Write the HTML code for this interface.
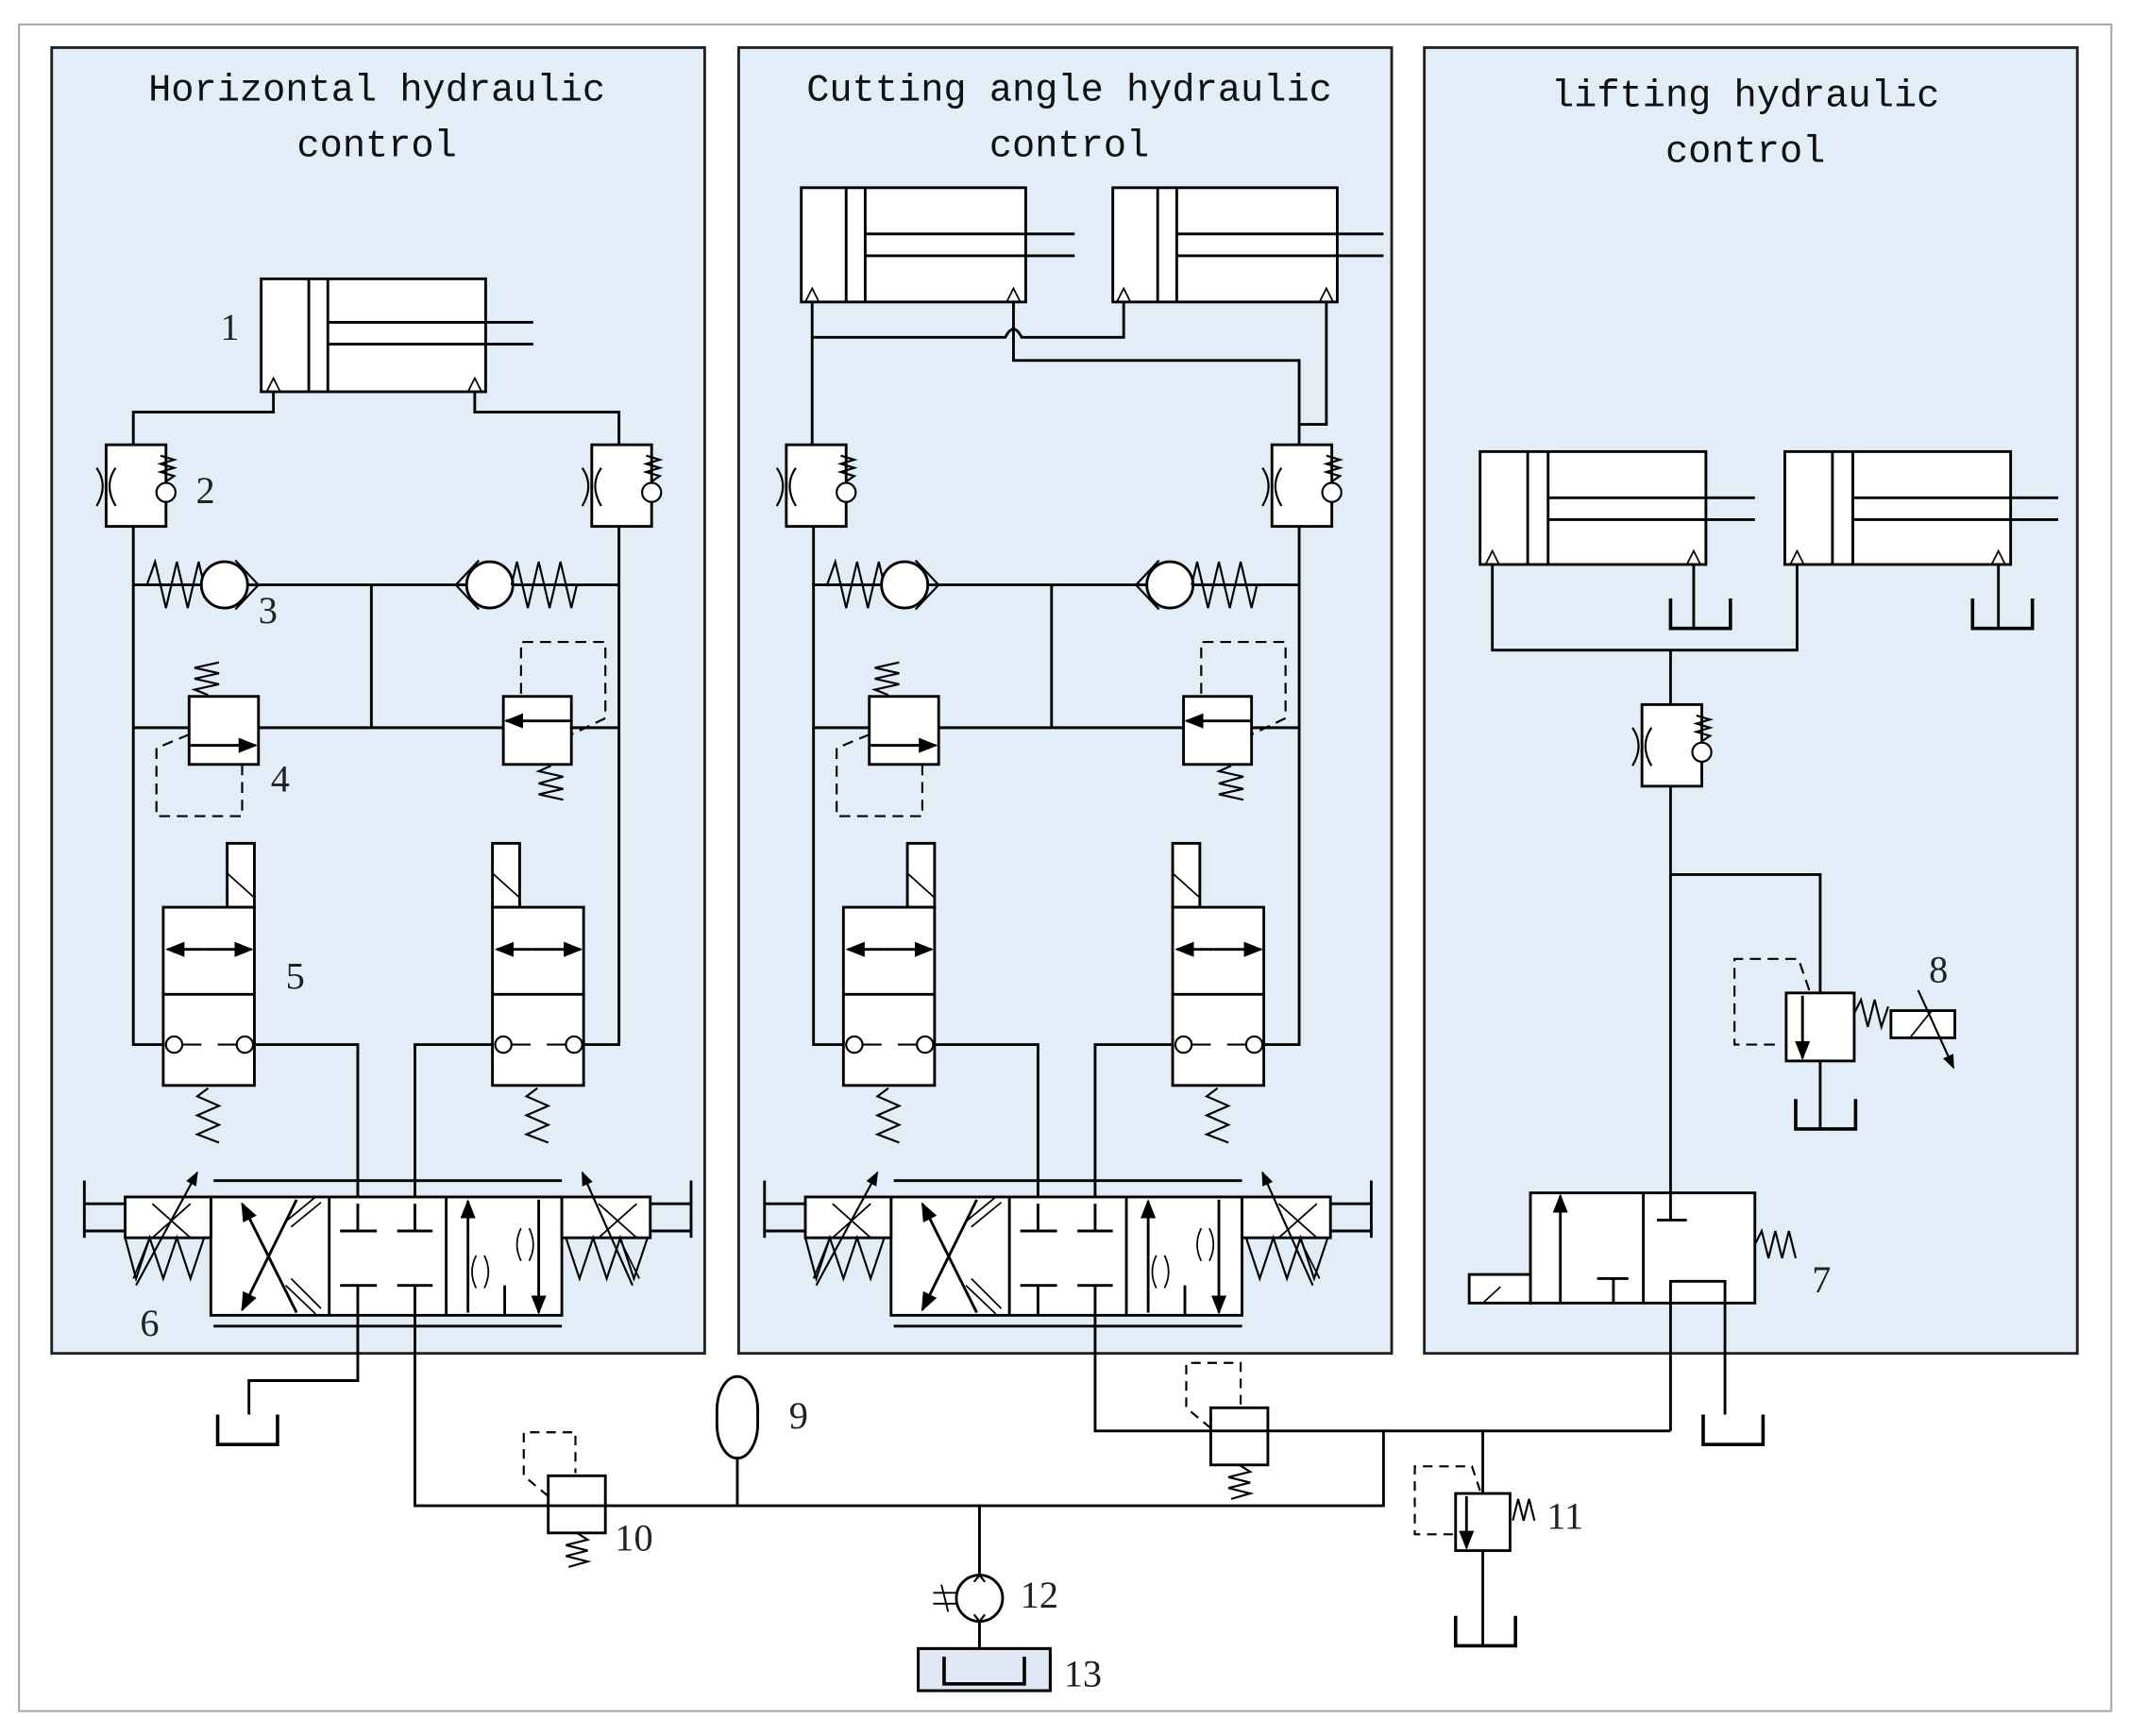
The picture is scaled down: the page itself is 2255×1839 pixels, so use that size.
<!DOCTYPE html>
<html><head><meta charset="utf-8"><style>
html,body{margin:0;padding:0;background:#fff}
svg{display:block}
text{font-family:"Liberation Serif",serif;fill:#222}
.t{font-family:"Liberation Mono",monospace;font-size:28px;fill:#111}
</style></head><body>
<svg width="2255" height="1839" viewBox="0 0 1565 1276.3" preserveAspectRatio="none" xmlns="http://www.w3.org/2000/svg">
<defs>
<marker id="ah" viewBox="0 0 10 10" refX="9" refY="5" markerWidth="7" markerHeight="7" orient="auto-start-reverse"><path d="M0,1 L10,5 L0,9 z" fill="#000"/></marker>
<g id="v2">
 <rect x="0" y="0" width="44" height="60" fill="#fff" stroke="#000" stroke-width="2"/>
 <path d="M-7,17 Q2,30 -7,45 M7,17 Q-2,30 7,45" fill="none" stroke="#000" stroke-width="1.5"/>
 <polyline points="40,8 50,11 40,14 50,17 40,20 50,23 44,27" fill="none" stroke="#000" stroke-width="1.5"/>
 <circle cx="44" cy="35" r="7" fill="#fff" stroke="#000" stroke-width="1.5"/>
</g>
<g id="tank"><polyline points="0,0 0,22 44,22 44,0" fill="none" stroke="#000" stroke-width="2.5"/></g>
<g id="lower">
 <path d="M98,387 V768 H120 M455,387 V768 H430 M98,430 H455 M273,430 V535 M98,535 H455 M187,768 H263 V885 M362,768 H305 V885" fill="none" stroke="#000" stroke-width="2"/>
 <use href="#v2" x="78" y="327"/>
 <use href="#v2" x="435" y="327"/>
 <polyline points="98,430 108,430 114,413 122,447 130,413 138,447 146,413 150,430" fill="none" stroke="#000" stroke-width="1.5"/>
 <circle cx="165" cy="430" r="17" fill="#fff" stroke="#000" stroke-width="2"/>
 <path d="M173,412 L190,430 L173,448" fill="none" stroke="#000" stroke-width="1.5"/>
 <circle cx="360" cy="430" r="17" fill="#fff" stroke="#000" stroke-width="2"/>
 <path d="M352,412 L335,430 L352,448" fill="none" stroke="#000" stroke-width="1.5"/>
 <polyline points="376,430 380,413 388,447 396,413 404,447 412,413 420,447 424,430" fill="none" stroke="#000" stroke-width="1.5"/>
 <rect x="139" y="512" width="51" height="50" fill="#fff" stroke="#000" stroke-width="2"/>
 <line x1="140" y1="548" x2="188" y2="548" stroke="#000" stroke-width="2" marker-end="url(#ah)"/>
 <polyline points="153,511 143,507 161,503 143,499 161,495 143,491 161,487" fill="none" stroke="#000" stroke-width="1.5"/>
 <path d="M139,540 L115,550 V600 H178 V562" fill="none" stroke="#000" stroke-width="1.5" stroke-dasharray="8,5"/>
 <rect x="370" y="512" width="50" height="50" fill="#fff" stroke="#000" stroke-width="2"/>
 <line x1="419" y1="530" x2="372" y2="530" stroke="#000" stroke-width="2" marker-end="url(#ah)"/>
 <polyline points="405,563 396,567 414,571 396,576 414,580 396,584 414,588" fill="none" stroke="#000" stroke-width="1.5"/>
 <path d="M383,510 V472 H445 V528 L420,540" fill="none" stroke="#000" stroke-width="1.5" stroke-dasharray="8,5"/>
 <g id="v5">
 <rect x="167" y="620" width="20" height="47" fill="#fff" stroke="#000" stroke-width="2"/>
 <line x1="167" y1="642" x2="187" y2="660" stroke="#000" stroke-width="1.2"/>
 <rect x="120" y="667" width="67" height="131" fill="#fff" stroke="#000" stroke-width="2"/>
 <line x1="120" y1="731" x2="187" y2="731" stroke="#000" stroke-width="2"/>
 <line x1="150" y1="698" x2="123" y2="698" stroke="#000" stroke-width="2" marker-end="url(#ah)"/>
 <line x1="150" y1="698" x2="185" y2="698" stroke="#000" stroke-width="2" marker-end="url(#ah)"/>
 <circle cx="128" cy="768" r="6" fill="#fff" stroke="#000" stroke-width="1.5"/>
 <circle cx="180" cy="768" r="6" fill="#fff" stroke="#000" stroke-width="1.5"/>
 <path d="M134,768 H148 M160,768 H174" stroke="#000" stroke-width="1.5"/>
 <polyline points="153,800 145,806 161,813 145,820 161,827 145,834 161,840" fill="none" stroke="#000" stroke-width="1.5"/>
 </g>
 <g transform="translate(242,0)">
 <rect x="120" y="620" width="20" height="47" fill="#fff" stroke="#000" stroke-width="2"/>
 <line x1="120" y1="642" x2="140" y2="660" stroke="#000" stroke-width="1.2"/>
 <rect x="120" y="667" width="67" height="131" fill="#fff" stroke="#000" stroke-width="2"/>
 <line x1="120" y1="731" x2="187" y2="731" stroke="#000" stroke-width="2"/>
 <line x1="150" y1="698" x2="123" y2="698" stroke="#000" stroke-width="2" marker-end="url(#ah)"/>
 <line x1="150" y1="698" x2="185" y2="698" stroke="#000" stroke-width="2" marker-end="url(#ah)"/>
 <circle cx="128" cy="768" r="6" fill="#fff" stroke="#000" stroke-width="1.5"/>
 <circle cx="180" cy="768" r="6" fill="#fff" stroke="#000" stroke-width="1.5"/>
 <path d="M134,768 H148 M160,768 H174" stroke="#000" stroke-width="1.5"/>
 <polyline points="153,800 145,806 161,813 145,820 161,827 145,834 161,840" fill="none" stroke="#000" stroke-width="1.5"/>
 </g>
 <g stroke="#000" stroke-width="2" fill="none">
 <line x1="157" y1="868" x2="413" y2="868"/>
 <line x1="157" y1="975" x2="413" y2="975"/>
 <rect x="155" y="880" width="258" height="87" fill="#fff"/>
 <line x1="242" y1="880" x2="242" y2="967"/>
 <line x1="328" y1="880" x2="328" y2="967"/>
 <rect x="92" y="880" width="63" height="30" fill="#fff"/>
 <rect x="413" y="880" width="65" height="30" fill="#fff"/>
 <path d="M62,868 V910 M62,885 H92 M62,905 H92 M508,868 V910 M478,885 H508 M478,905 H508"/>
 <path d="M92,910 L100,940 L110,910 L120,940 L130,910 L140,940 L150,910 M416,910 L426,940 L436,910 L446,940 L456,910 L466,940 L476,910" stroke-width="1.5"/>
 <path d="M112,885 L140,910 M112,910 L140,885 M440,885 L468,910 M440,910 L468,885" stroke-width="1.2"/>
 <path d="M98,940 L110,910 M455,910 L470,940" stroke-width="1.2"/>
 <line x1="100" y1="945" x2="145" y2="862" stroke-width="1.5" marker-end="url(#ah)"/>
 <line x1="465" y1="945" x2="428" y2="862" stroke-width="1.5" marker-end="url(#ah)"/>
 <line x1="218" y1="965" x2="178" y2="885" marker-end="url(#ah)"/>
 <line x1="218" y1="882" x2="178" y2="963" marker-end="url(#ah)"/>
 <path d="M210,898 L232,880 M214,902 L236,884 M210,945 L232,966 M214,940 L236,962" stroke-width="1.2"/>
 <path d="M250,905 H277 M292,905 H318 M263,885 V905 M305,885 V905 M250,945 H277 M292,945 H318 M263,945 V967 M305,945 V967"/>
 <line x1="344" y1="965" x2="344" y2="883" marker-end="url(#ah)"/>
 <line x1="396" y1="882" x2="396" y2="965" marker-end="url(#ah)"/>
 <line x1="371" y1="945" x2="371" y2="967"/>
 <path d="M383,903 Q377,915 383,927 M389,903 Q395,915 389,927 M350,923 Q344,935 350,947 M356,923 Q362,935 356,947" stroke-width="1.2"/>
 </g>
</g>
</defs>

<rect x="14" y="18" width="1538" height="1240" fill="#fff" stroke="#aaa" stroke-width="1.5"/>
<rect x="38" y="35" width="480" height="960" fill="#e3edf8" stroke="#222" stroke-width="2"/>
<rect x="543" y="35" width="480" height="960" fill="#e3edf8" stroke="#222" stroke-width="2"/>
<rect x="1047" y="35" width="480" height="960" fill="#e3edf8" stroke="#222" stroke-width="2"/>

<text class="t" x="277" y="74" text-anchor="middle">Horizontal hydraulic</text>
<text class="t" x="277" y="115" text-anchor="middle">control</text>
<text class="t" x="786" y="74" text-anchor="middle">Cutting angle hydraulic</text>
<text class="t" x="786" y="115" text-anchor="middle">control</text>
<text class="t" x="1283" y="78" text-anchor="middle">lifting hydraulic</text>
<text class="t" x="1283" y="119" text-anchor="middle">control</text>

<g stroke="#000" stroke-width="2" fill="none">
<rect x="192" y="205" width="165" height="83" fill="#fff"/>
<path d="M227,205 V288 M241,205 V288 M241,237 H392 M241,253 H392"/>
<path d="M196,288 L201,278 L206,288 M344,288 L349,278 L354,288" stroke-width="1.2"/>
<path d="M201,288 V303 H98 V327 M349,288 V303 H455 V327"/>
</g>
<use href="#lower"/>
<use href="#lower" x="500"/>

<g stroke="#000" stroke-width="2" fill="none">
<rect x="589" y="138" width="165" height="84" fill="#fff"/>
<path d="M622,138 V222 M636,138 V222 M636,172 H790 M636,188 H790"/>
<rect x="818" y="138" width="165" height="84" fill="#fff"/>
<path d="M851,138 V222 M865,138 V222 M865,172 H1017 M865,188 H1017"/>
<path d="M592,222 L597,212 L602,222 M740,222 L745,212 L750,222 M821,222 L826,212 L831,222 M970,222 L975,212 L980,222" stroke-width="1.2"/>
<path d="M597,222 V327 M597,248 H739 Q745,236 751,248 H826 V222 M745,222 V265 H955 V327 M975,222 V312 H955"/>
</g>

<g stroke="#000" stroke-width="2" fill="none">
<rect x="1088" y="332" width="166" height="83" fill="#fff"/>
<path d="M1123,332 V415 M1138,332 V415 M1138,366 H1290 M1138,382 H1290"/>
<rect x="1312" y="332" width="166" height="83" fill="#fff"/>
<path d="M1347,332 V415 M1362,332 V415 M1362,366 H1513 M1362,382 H1513"/>
<path d="M1092,415 L1097,405 L1102,415 M1240,415 L1245,405 L1250,415 M1316,415 L1321,405 L1326,415 M1464,415 L1469,405 L1474,415" stroke-width="1.2"/>
<path d="M1097,415 V478 H1321 V415 M1228,478 V518 M1245,415 V462 M1469,415 V462"/>
<path d="M1228,578 V877 M1228,643 H1338 V730 M1338,780 V830"/>
</g>
<use href="#tank" x="1228" y="440"/>
<use href="#tank" x="1450" y="440"/>
<use href="#v2" x="1207" y="518"/>
<g stroke="#000" stroke-width="2" fill="none">
<rect x="1313" y="730" width="50" height="50" fill="#fff"/>
<line x1="1325" y1="732" x2="1325" y2="778" marker-end="url(#ah)"/>
<path d="M1330,728 L1322,705 H1275 V768 H1305" stroke-width="1.5" stroke-dasharray="8,5"/>
<polyline points="1363,745 1368,735 1373,755 1378,735 1383,755 1388,740" stroke-width="1.5"/>
<rect x="1390" y="743" width="47" height="20" fill="#fff"/>
<line x1="1410" y1="728" x2="1436" y2="785" stroke-width="1.5" marker-end="url(#ah)"/>
<line x1="1404" y1="763" x2="1420" y2="743" stroke-width="1.2"/>
</g>
<use href="#tank" x="1320" y="808"/>
<g stroke="#000" stroke-width="2" fill="none">
<rect x="1125" y="877" width="165" height="81" fill="#fff"/>
<line x1="1208" y1="877" x2="1208" y2="958"/>
<rect x="1080" y="937" width="45" height="21" fill="#fff"/>
<line x1="1090" y1="958" x2="1103" y2="946" stroke-width="1.2"/>
<line x1="1147" y1="958" x2="1147" y2="879" marker-end="url(#ah)"/>
<path d="M1174,940 H1197 M1186,940 V958 M1218,897 H1240 M1228,877 V897"/>
<path d="M1228,1052 V942 H1268 V1040"/>
<polyline points="1290,915 1295,905 1300,925 1305,905 1310,925 1315,905 1320,925" stroke-width="1.5"/>
</g>
<use href="#tank" x="1252" y="1040"/>

<g stroke="#000" stroke-width="2" fill="none">
<path d="M263,967 V1015 H183 V1040 M305,967 V1107 H1017 V1052 M805,967 V1052 H1228 M1090,1052 V1098 M1090,1140 V1210 M542,1072 V1107 M720,1107 V1158 M720,1192 V1230"/>
<rect x="403" y="1085" width="42" height="42" fill="#fff"/>
<line x1="403" y1="1107" x2="445" y2="1107"/>
<path d="M403,1100 L385,1085 V1053 H423 V1083" stroke-width="1.5" stroke-dasharray="7,5"/>
<polyline points="424,1127 432,1132 416,1136 432,1140 416,1144 432,1148 418,1152" stroke-width="1.5"/>
<rect x="890" y="1035" width="42" height="42" fill="#fff"/>
<line x1="890" y1="1052" x2="932" y2="1052"/>
<path d="M890,1050 L872,1035 V1002 H912 V1033" stroke-width="1.5" stroke-dasharray="7,5"/>
<polyline points="911,1077 919,1082 903,1086 919,1090 903,1094 919,1098 905,1102" stroke-width="1.5"/>
<rect x="1070" y="1098" width="40" height="42" fill="#fff"/>
<line x1="1078" y1="1100" x2="1078" y2="1138" marker-end="url(#ah)"/>
<path d="M1088,1096 L1082,1078 H1040 V1128 H1068" stroke-width="1.5" stroke-dasharray="7,5"/>
<polyline points="1112,1118 1116,1102 1120,1118 1124,1102 1128,1118" stroke-width="1.5"/>
<rect x="527" y="1012" width="30" height="60" rx="15" ry="25" fill="#fff"/>
<circle cx="720" cy="1175" r="17" fill="#fff"/>
<path d="M716,1163 L720,1158 L724,1163 M716,1187 L720,1192 L724,1187" stroke-width="1.5"/>
<path d="M686,1171 H703 M686,1179 H703 M692,1165 L697,1185" stroke-width="1.3"/>
<rect x="675" y="1212" width="97" height="31" fill="#dfe8f4"/>
<polyline points="694,1218 694,1238 753,1238 753,1218" stroke-width="2.5"/>
</g>
<use href="#tank" x="160" y="1040"/>
<use href="#tank" x="1070" y="1188"/>
<rect x="675" y="1212" width="97" height="31" fill="none" stroke="#000" stroke-width="2"/>

<g font-size="28">
<text x="162" y="250">1</text>
<text x="144" y="370">2</text>
<text x="190" y="458">3</text>
<text x="199" y="582">4</text>
<text x="210" y="727">5</text>
<text x="103" y="982">6</text>
<text x="1332" y="950">7</text>
<text x="1418" y="722">8</text>
<text x="580" y="1050">9</text>
<text x="452" y="1140">10</text>
<text x="1137" y="1124">11</text>
<text x="750" y="1182">12</text>
<text x="782" y="1240">13</text>
</g>
</svg>
</body></html>
